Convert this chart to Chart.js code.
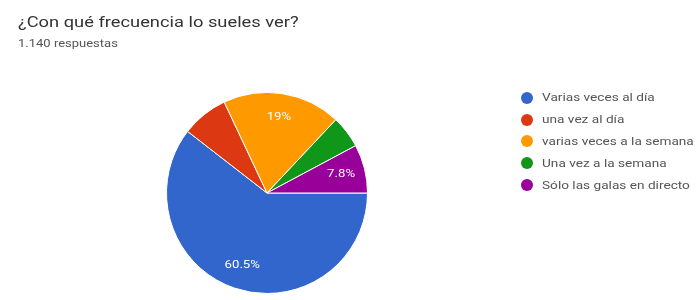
<!DOCTYPE html>
<html>
<head>
<meta charset="utf-8">
<script src="https://cdn.jsdelivr.net/npm/chart.js@4/dist/chart.umd.min.js"></script>
<style>
  html, body { margin: 0; padding: 0; background: #fff; }
  #wrap { position: relative; width: 696px; height: 300px; overflow: hidden; font-family: Roboto, Arial, sans-serif; }
  #chart { position: absolute; left: 0; top: 0; }
  .wide { transform-origin: 0 50%; white-space: nowrap; }
  #title { position: absolute; left: 18px; top: 13px; font-size: 15px; color: #333; transform: scaleX(1.22); }
  #sub { position: absolute; left: 18px; top: 38px; font-size: 10px; color: #555; transform: scaleX(1.3); }
  #legend { position: absolute; left: 521px; top: 87px; font-size: 11px; color: #555; }
  #legend div { height: 21.8px; display: flex; align-items: center; white-space: nowrap; }
  #legend span.dot { display: inline-block; width: 12px; height: 12px; border-radius: 50%; margin-right: 9px; flex: none; }
  #legend span.txt { display: inline-block; transform: scaleX(1.24); transform-origin: 0 50%; }
</style>
</head>
<body>
<div id="wrap">
  <canvas id="chart" width="696" height="300"></canvas>
  <div id="title" class="wide">¿Con qué frecuencia lo sueles ver?</div>
  <div id="sub" class="wide">1.140 respuestas</div>
  <div id="legend"></div>
</div>
<script>
const categories = [
  "Varias veces al día",
  "una vez al día",
  "varias veces a la semana",
  "Una vez a la semana",
  "Sólo las galas en directo"
];
const percentages = [60.5, 7.5, 19, 5.2, 7.8];
const sliceLabels = ["60.5%", "", "19%", "", "7.8%"];
const colors = ["#3366cc", "#dc3912", "#ff9900", "#109618", "#990099"];

// draw the percent text inside slices
const sliceText = {
  id: "sliceText",
  afterDatasetsDraw(chart) {
    const ctx = chart.ctx;
    const meta = chart.getDatasetMeta(0);
    ctx.save();
    ctx.fillStyle = "#fff";
    ctx.font = "11px Roboto, Arial, sans-serif";
    ctx.textAlign = "center";
    ctx.textBaseline = "middle";
    meta.data.forEach((arc, i) => {
      if (!sliceLabels[i]) return;
      const p = arc.getProps(["x", "y", "startAngle", "endAngle", "outerRadius"], true);
      const mid = (p.startAngle + p.endAngle) / 2;
      const r = p.outerRadius * 0.76;
      const x = p.x + Math.cos(mid) * r;
      const y = p.y + Math.sin(mid) * r;
      // same horizontal widening as the rest of the text
      ctx.save();
      ctx.translate(x, y);
      ctx.scale(1.2, 1);
      ctx.fillText(sliceLabels[i], 0, 0);
      ctx.restore();
    });
    ctx.restore();
  }
};

new Chart(document.getElementById("chart"), {
  type: "pie",
  data: {
    labels: categories,
    datasets: [{
      data: percentages,
      backgroundColor: colors,
      borderColor: "#fff",
      borderWidth: 1
    }]
  },
  options: {
    responsive: false,
    animation: false,
    rotation: 90,
    layout: { padding: { top: 92, bottom: 6, left: 166, right: 328 } },
    plugins: {
      legend: { display: false },
      tooltip: { enabled: false }
    }
  },
  plugins: [sliceText]
});

const legend = document.getElementById("legend");
categories.forEach((name, i) => {
  const row = document.createElement("div");
  row.innerHTML = '<span class="dot" style="background:' + colors[i] + '"></span><span class="txt">' + name + '</span>';
  legend.appendChild(row);
});
</script>
</body>
</html>
